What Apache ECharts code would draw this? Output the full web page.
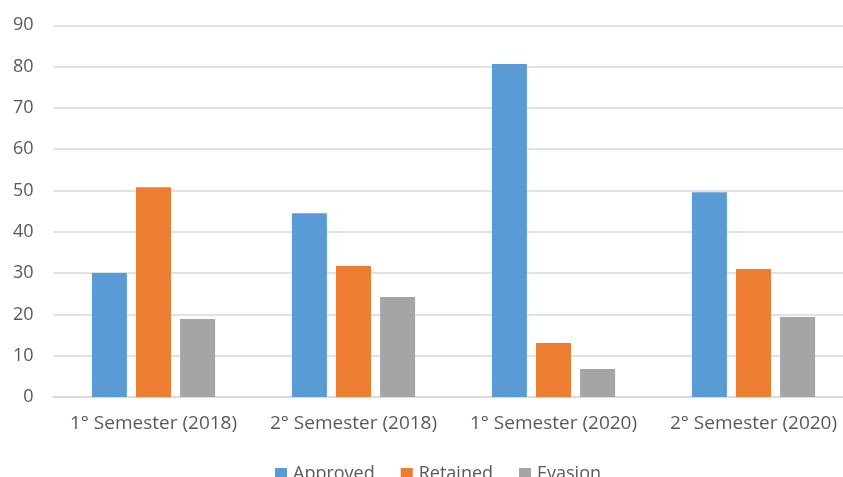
<!DOCTYPE html>
<html><head><meta charset="utf-8">
<script src="https://cdn.jsdelivr.net/npm/echarts@6/dist/echarts.min.js"></script>
<style>html,body{margin:0;padding:0;background:#fff}#c{width:843px;height:477px}</style>
</head><body><div id="c"></div>
<script>
const categories = ["1° Semester (2018)", "2° Semester (2018)", "1° Semester (2020)", "2° Semester (2020)"];
const approved = [30, 44.5, 80.6, 49.6];
const retained = [50.8, 31.7, 13.1, 31];
const evasion = [18.9, 24.2, 6.8, 19.4];
const yTicks = [0, 10, 20, 30, 40, 50, 60, 70, 80, 90];

const font = '"Open Sans", Lato, sans-serif';
const chart = echarts.init(document.getElementById('c'), null, {renderer: 'canvas'});
const mk = (name, data, color) => ({
  name, type: 'bar', data, barWidth: 35, barGap: '26%',
  itemStyle: {color}, emphasis: {disabled: true}, animation: false
});
chart.setOption({
  animation: false,
  grid: {left: 53.5, top: 25.3, width: 800, height: 371.7, containLabel: false, outerBoundsMode: 'none'},
  legend: {
    data: ['Approved', 'Retained', 'Evasion'],
    left: 275, top: 465, padding: 0, itemWidth: 12, itemHeight: 12, itemGap: 26,
    icon: 'rect',
    textStyle: {color: '#595959', fontSize: 18, fontFamily: font, padding: [0,0,0,1]}
  },
  xAxis: {
    type: 'category', data: categories,
    axisLine: {lineStyle: {color: '#d9d9d9', width: 1.5}},
    axisTick: {show: false},
    axisLabel: {color: '#595959', fontSize: 19, fontFamily: font, margin: 17, interval: 0, hideOverlap: false}
  },
  yAxis: {
    type: 'value', min: 0, max: 90, interval: 10,
    axisLine: {show: false}, axisTick: {show: false},
    splitLine: {lineStyle: {color: '#d9d9d9', width: 1.5}},
    axisLabel: {color: '#595959', fontSize: 18, fontFamily: font, margin: 20,
      formatter: v => yTicks.includes(v) ? String(v) : ''}
  },
  series: [
    mk('Approved', approved, '#5b9bd5'),
    mk('Retained', retained, '#ed7d31'),
    mk('Evasion', evasion, '#a5a5a5')
  ]
});
</script></body></html>
